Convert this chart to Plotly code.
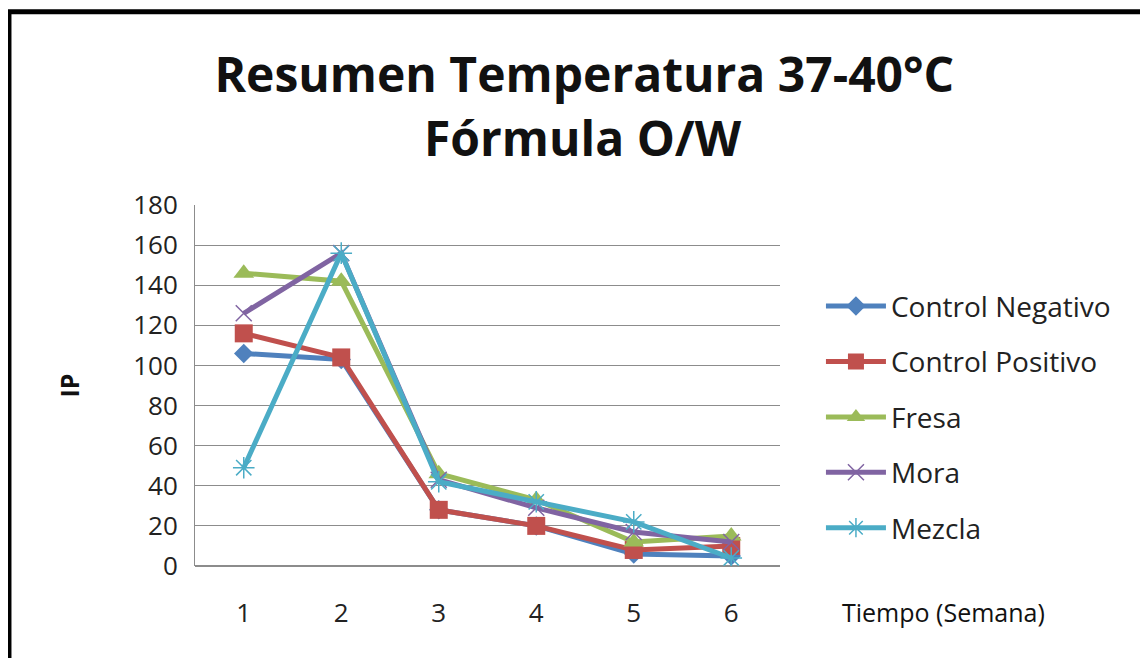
import plotly.graph_objects as go

weeks = ["1", "2", "3", "4", "5", "6"]
control_negativo = [106, 103, 28, 20, 6, 5]
control_positivo = [116, 104, 28, 20, 8, 10]
fresa = [146, 142, 46, 33, 12, 15]
mora = [126, 156, 43, 29, 17, 12]
mezcla = [49, 156, 42, 32, 22, 4]

series = [
    ("Control Negativo", control_negativo, "#4F81BD", "diamond", 15, 0),
    ("Control Positivo", control_positivo, "#C0504D", "square", 18, 0),
    ("Fresa", fresa, "#9BBB59", "triangle-up", 18, 0),
    ("Mora", mora, "#8064A2", "x-thin-open", 16, 1.5),
    ("Mezcla", mezcla, "#4BACC6", "asterisk-open", 18, 1.5),
]

FONT = "Open Sans"
fig = go.Figure()
for i, (name, vals, color, sym, size, lw) in enumerate(series):
    mk = dict(symbol=sym, size=size, color=color)
    if lw:
        mk["line"] = dict(color=color, width=lw)
    fig.add_trace(go.Scatter(x=weeks, y=vals, name=name, mode="lines+markers",
                             legendgroup=f"g{i}",
                             line=dict(color=color, width=5), marker=mk))

fig.update_layout(
    width=1148, height=658,
    margin=dict(l=187, r=376, t=197, b=100),
    paper_bgcolor="white", plot_bgcolor="white",
    font=dict(family=FONT, color="#222"),
    title=dict(text="<b>Resumen Temperatura 37-40°C</b>",
               x=0.502, xanchor="center", y=0.898, yanchor="middle",
               yref="container", xref="container",
               font=dict(size=48, family=FONT, color="#111")),
    legend=dict(x=1.07, y=0.413, xanchor="left", yanchor="middle",
                font=dict(size=28, family=FONT, color="#222"),
                tracegroupgap=16, itemwidth=60, bgcolor="rgba(0,0,0,0)"),
    showlegend=True,
)
fig.update_xaxes(type="category", range=[-0.5, 5.5], showgrid=False,
                 showline=False, ticks="", tickfont=dict(size=26, family=FONT, color="#222"),
                 ticklabelstandoff=29)
fig.update_yaxes(range=[0, 180], dtick=20, showgrid=True, gridcolor="#8c8c8c",
                 gridwidth=1, showline=True, linecolor="#8c8c8c", linewidth=1,
                 zeroline=True, zerolinecolor="#8c8c8c", ticks="",
                 tickfont=dict(size=26, family=FONT, color="#222"), ticklabelstandoff=11)

fig.add_annotation(text="<b>Fórmula O/W</b>", x=0.663, y=1.186, xref="paper", yref="paper",
                   xanchor="center", yanchor="middle", showarrow=False,
                   font=dict(size=48, family=FONT, color="#111"))
fig.add_annotation(text="<b>IP</b>", x=-0.217, y=0.5, xref="paper", yref="paper",
                   xanchor="center", yanchor="middle",
                   textangle=-90, showarrow=False, font=dict(size=25, family=FONT, color="#111"))
fig.add_annotation(text="Tiempo (Semana)", x=1.279, y=-0.127, xref="paper", yref="paper",
                   xanchor="center", yanchor="middle",
                   showarrow=False, font=dict(size=25, family=FONT, color="#111"))
fig.add_shape(type="rect", xref="paper", yref="paper", x0=-0.318, y0=-0.6, x1=1.8, y1=1.535,
              line=dict(color="black", width=5), layer="above")

fig.write_html("out.html")
